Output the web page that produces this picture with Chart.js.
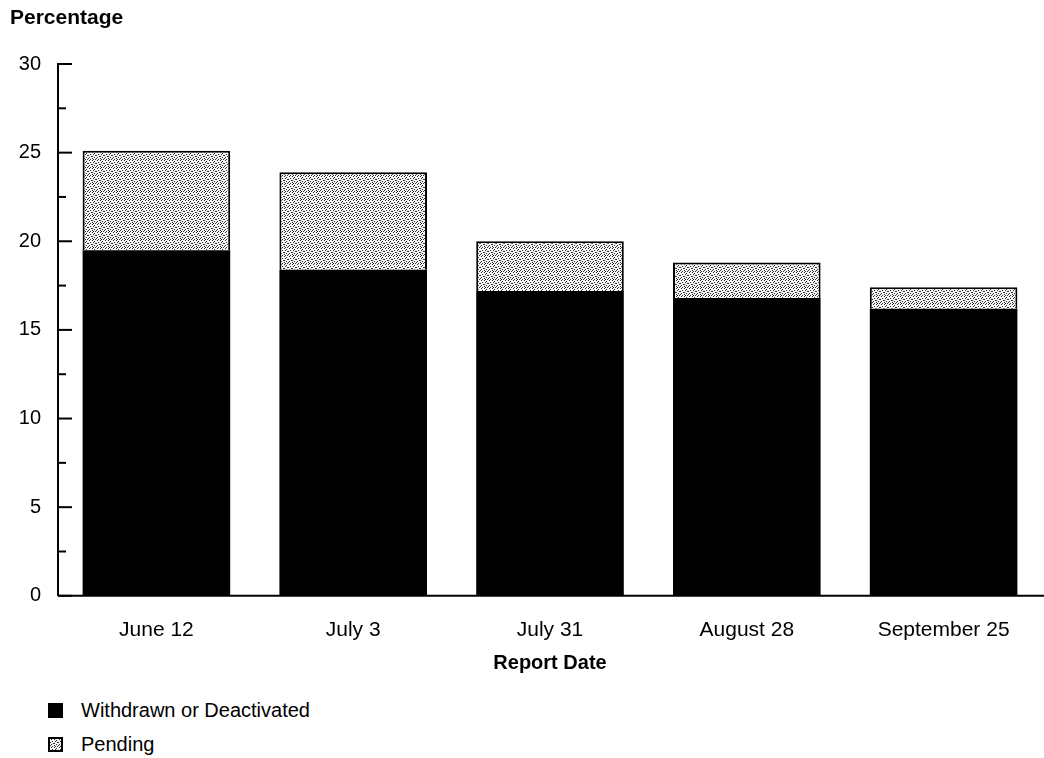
<!DOCTYPE html>
<html>
<head>
<meta charset="utf-8">
<script src="https://cdn.jsdelivr.net/npm/chart.js@4/dist/chart.umd.min.js"></script>
<style>
  body { margin: 0; background: #fff; font-family: "Liberation Sans", Arial, sans-serif; }
  #wrap { position: relative; width: 1044px; height: 758px; }
  #chart { position: absolute; left: 0; top: 0; }
  .ytitle { position: absolute; left: 10px; top: 5px; font-size: 21px; font-weight: bold; color: #000; }
  .legend-item { position: absolute; left: 48px; font-size: 20px; color: #000; display: flex; align-items: center; }
  .swatch { width: 15px; height: 15px; box-sizing: border-box; border: 2px solid #000; margin-right: 18px; }
</style>
</head>
<body>
<div id="wrap">
  <canvas id="chart" width="1044" height="690"></canvas>
  <div class="ytitle">Percentage</div>
  <div class="legend-item" style="top:699px"><span class="swatch" style="background:#000"></span>Withdrawn or Deactivated</div>
  <div class="legend-item" style="top:733px"><span class="swatch" id="pendSwatch"></span>Pending</div>
</div>
<script>
// report dates and percentages
const reportDates = ['June 12', 'July 3', 'July 31', 'August 28', 'September 25'];
const withdrawn = [19.5, 18.4, 17.2, 16.8, 16.2];
const pending = [5.6, 5.5, 2.8, 2.0, 1.2];
const yTicks = [0, 5, 10, 15, 20, 25, 30];

// stippled fill like the printed original (fixed dot layout, 8x8 tile)
function makeStipple() {
    const c = document.createElement('canvas');
    c.width = 8; c.height = 8;
    const g = c.getContext('2d');
    g.fillStyle = '#f4f4f4';
    g.fillRect(0, 0, 8, 8);
    g.fillStyle = '#333333';
    [[1, 0], [4, 0], [6, 1], [2, 2], [5, 2], [0, 3], [7, 3], [3, 4], [4, 4],
     [1, 5], [6, 5], [0, 6], [4, 6], [2, 7], [5, 7], [7, 7]]
        .forEach(p => g.fillRect(p[0], p[1], 1, 1));
    return c;
}
const stippleCanvas = makeStipple();

document.addEventListener('DOMContentLoaded', function() {
    const ctx = document.getElementById('chart').getContext('2d');
    const stipple = ctx.createPattern(stippleCanvas, 'repeat');
    document.getElementById('pendSwatch').style.background = 'url(' + stippleCanvas.toDataURL() + ')';

    // ticks that point into the plot, major every 5 and minor halfway
    const innerTicks = {
        id: 'innerTicks',
        afterDraw(chart) {
            const y = chart.scales.y;
            const x0 = chart.chartArea.left;
            const g = chart.ctx;
            g.save();
            g.strokeStyle = '#000';
            g.lineWidth = 2;
            for (let v = 0; v <= 30; v += 2.5) {
                const py = y.getPixelForValue(v);
                const len = v % 5 === 0 ? 14 : 8;
                g.beginPath();
                g.moveTo(x0, py);
                g.lineTo(x0 + len, py);
                g.stroke();
            }
            // x axis runs to the page edge
            const by = y.getPixelForValue(0);
            g.beginPath();
            g.moveTo(x0, by);
            g.lineTo(chart.width, by);
            g.stroke();
            g.restore();
        }
    };

    new Chart(ctx, {
        type: 'bar',
        data: {
            labels: reportDates,
            datasets: [{
                label: 'Withdrawn or Deactivated',
                data: withdrawn,
                backgroundColor: '#000',
                borderColor: '#000',
                borderWidth: 0
            }, {
                label: 'Pending',
                data: pending,
                backgroundColor: stipple,
                borderColor: '#000',
                borderWidth: 2,
                borderSkipped: 'bottom'
            }]
        },
        options: {
            responsive: false,
            animation: false,
            layout: { padding: { top: 64, right: 2, bottom: 15, left: 0 } },
            datasets: { bar: { categoryPercentage: 1, barPercentage: 0.75 } },
            plugins: {
                legend: { display: false },
                tooltip: { enabled: false }
            },
            scales: {
                x: {
                    stacked: true,
                    grid: { display: false, drawTicks: false },
                    border: { display: false },
                    ticks: {
                        color: '#000',
                        padding: 22,
                        font: { family: 'Liberation Sans', size: 21 }
                    },
                    title: {
                        display: true,
                        text: 'Report Date',
                        color: '#000',
                        padding: { top: -14, bottom: 0 },
                        font: { family: 'Liberation Sans', size: 20, weight: 'bold' }
                    }
                },
                y: {
                    stacked: true,
                    min: 0,
                    max: 30,
                    afterFit: function(scale) { scale.width = 58; },
                    afterBuildTicks: function(scale) { scale.ticks = yTicks.map(v => ({ value: v })); },
                    grid: { display: false, drawTicks: false },
                    border: { display: true, color: '#000', width: 2 },
                    ticks: {
                        color: '#000',
                        padding: 17,
                        font: { family: 'Liberation Sans', size: 20 }
                    }
                }
            }
        },
        plugins: [innerTicks]
    });
});
</script>
</body>
</html>
